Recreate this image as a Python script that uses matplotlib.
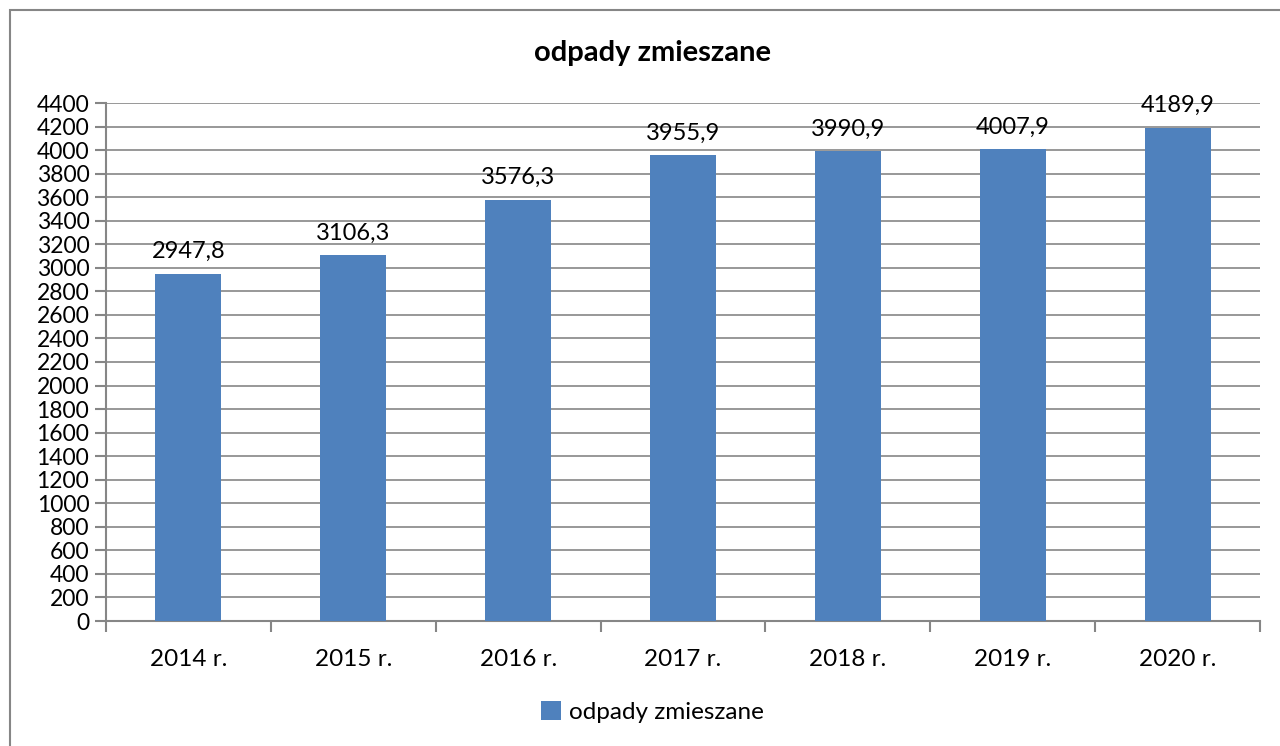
import matplotlib.pyplot as plt
from matplotlib.patches import Rectangle
from matplotlib.ticker import FixedLocator, NullFormatter

years = ['2014 r.', '2015 r.', '2016 r.', '2017 r.', '2018 r.', '2019 r.', '2020 r.']
values = [2947.8, 3106.3, 3576.3, 3955.9, 3990.9, 4007.9, 4189.9]
labels = ['2947,8', '3106,3', '3576,3', '3955,9', '3990,9', '4007,9', '4189,9']

plt.rcParams['font.family'] = ['Lato', 'DejaVu Sans']
grey = '#868686'
blue = '#4F81BD'

fig = plt.figure(figsize=(12.8, 7.46), dpi=100)
# ramka wykresu (widoczna tylko z lewej i u góry)
fig.patches.append(Rectangle((10 / 1280, -0.01), 1.05, 1 - 10 / 746 + 0.01,
                             transform=fig.transFigure, fill=False,
                             edgecolor=grey, linewidth=1.5))

ax = fig.add_axes([106 / 1280, 1 - 621 / 746, (1260 - 106) / 1280, (621 - 103) / 746])

x = list(range(len(years)))
ax.bar(x, values, width=0.4, color=blue, label='odpady zmieszane', zorder=3)
for xi, v, lab in zip(x, values, labels):
    ax.text(xi, v + 100, lab, ha='center', va='bottom', fontsize=17, zorder=4)

ax.set_xlim(-0.5, len(years) - 0.5)
ax.set_ylim(0, 4400)
ax.set_yticks(range(0, 4401, 200))
ax.set_xticks(x)
ax.set_xticklabels(years)
ax.xaxis.set_minor_locator(FixedLocator([i + 0.5 for i in range(-1, len(years))]))
ax.xaxis.set_minor_formatter(NullFormatter())
ax.tick_params(axis='x', which='major', length=0, pad=20, labelsize=17.5)
ax.tick_params(axis='x', which='minor', length=8, color=grey, width=1.5)
ax.tick_params(axis='y', length=8, color=grey, width=1.5, labelsize=16.5, pad=4)
ax.grid(axis='y', color=grey, linewidth=1.2, zorder=0)
for s in ['top', 'right']:
    ax.spines[s].set_visible(False)
for s in ['left', 'bottom']:
    ax.spines[s].set_color(grey)
    ax.spines[s].set_linewidth(1.5)

fig.text(652 / 1280, 1 - 53 / 746, 'odpady zmieszane', ha='center', va='center',
         fontsize=21, fontweight='bold')
fig.legend(loc='center', bbox_to_anchor=(652 / 1280, 1 - 712 / 746), frameon=False,
           fontsize=17.5, handlelength=0.85, handleheight=0.85, handletextpad=0.3)

fig.savefig('out.png', dpi=100)
